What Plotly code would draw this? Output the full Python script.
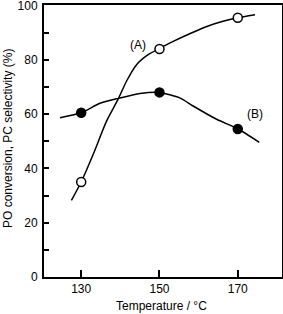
import plotly.graph_objects as go

temps = [130, 150, 170]
conv_A = [35, 84, 95.5]
sel_B = [60.5, 68, 54.5]

curve_A_x = [127.5, 130, 133.1, 136.5, 139.5, 141.6, 144.2, 147.1, 150, 153.5, 158, 162.1, 166, 170, 174.4]
curve_A_y = [28.2, 35, 45.3, 57.5, 65.7, 72.2, 78.3, 81.9, 84.2, 86.8, 89.8, 92.3, 94.1, 95.5, 96.6]
curve_B_x = [124.6, 130, 134.8, 139.5, 145, 150, 155.2, 158.6, 164.6, 170, 175.5]
curve_B_y = [58.7, 60.5, 64.0, 65.8, 67.6, 68.0, 66.0, 63.0, 58.1, 54.6, 49.6]

y_ticks = list(range(0, 101, 10))
y_labels = [str(v) if v % 20 == 0 else "" for v in y_ticks]
x_ticks = [130, 150, 170]

FONT = "Liberation Sans, Arial, sans-serif"

fig = go.Figure()
for cx, cy in [(curve_A_x, curve_A_y), (curve_B_x, curve_B_y)]:
    fig.add_trace(go.Scatter(x=cx, y=cy, mode="lines",
                             line=dict(color="black", width=1.5, shape="spline", smoothing=0.6),
                             showlegend=False, hoverinfo="skip"))
fig.add_trace(go.Scatter(x=temps, y=conv_A, mode="markers",
                         marker=dict(symbol="circle", size=9, color="white",
                                     line=dict(color="black", width=1.5)),
                         showlegend=False))
fig.add_trace(go.Scatter(x=temps, y=sel_B, mode="markers",
                         marker=dict(symbol="circle", size=9, color="black",
                                     line=dict(color="black", width=1.5)),
                         showlegend=False))

fig.add_annotation(x=144.6, y=85.5, text="(A)", showarrow=False,
                   font=dict(family=FONT, size=12, color="black"))
fig.add_annotation(x=174.4, y=60, text="(B)", showarrow=False,
                   font=dict(family=FONT, size=12, color="black"))

TOP, BOT = 5, 277
H = BOT - TOP
# axis titles
fig.add_annotation(xref="paper", yref="paper", x=(161 - 44) / 238, y=(BOT - 306) / H,
                   text="Temperature / °C", showarrow=False, xanchor="center", yanchor="middle",
                   font=dict(family=FONT, size=12, color="black"))
fig.add_annotation(xref="paper", yref="paper", x=(8 - 44) / 238, y=(BOT - 139) / H,
                   text="PO conversion, PC selectivity (%)", showarrow=False, textangle=-90,
                   xanchor="center", yanchor="middle",
                   font=dict(family=FONT, size=12, color="black"))

fig.update_layout(
    width=283, height=314,
    margin=dict(l=44, r=1, t=TOP, b=314 - BOT, autoexpand=False),
    paper_bgcolor="white", plot_bgcolor="white",
    font=dict(family=FONT, size=12, color="black"),
    xaxis=dict(range=[120.5, 181.3], tickvals=x_ticks, ticktext=[str(v) for v in x_ticks],
               ticks="inside", ticklen=7, tickwidth=1.5, tickcolor="black",
               showline=True, linecolor="black", linewidth=2, mirror=True,
               showgrid=False, zeroline=False, automargin=False),
    yaxis=dict(range=[0, 100.2], tickvals=y_ticks, ticktext=y_labels,
               ticks="inside", ticklen=5, tickwidth=1.5, tickcolor="black",
               showline=True, linecolor="black", linewidth=2, mirror=True,
               showgrid=False, zeroline=False, automargin=False,
               ticklabeloverflow="allow", ticklabelstandoff=2),
)

fig.write_html("out.html", config={"displayModeBar": False},
               post_script="document.body.style.margin='0';document.body.style.overflow='hidden';")
